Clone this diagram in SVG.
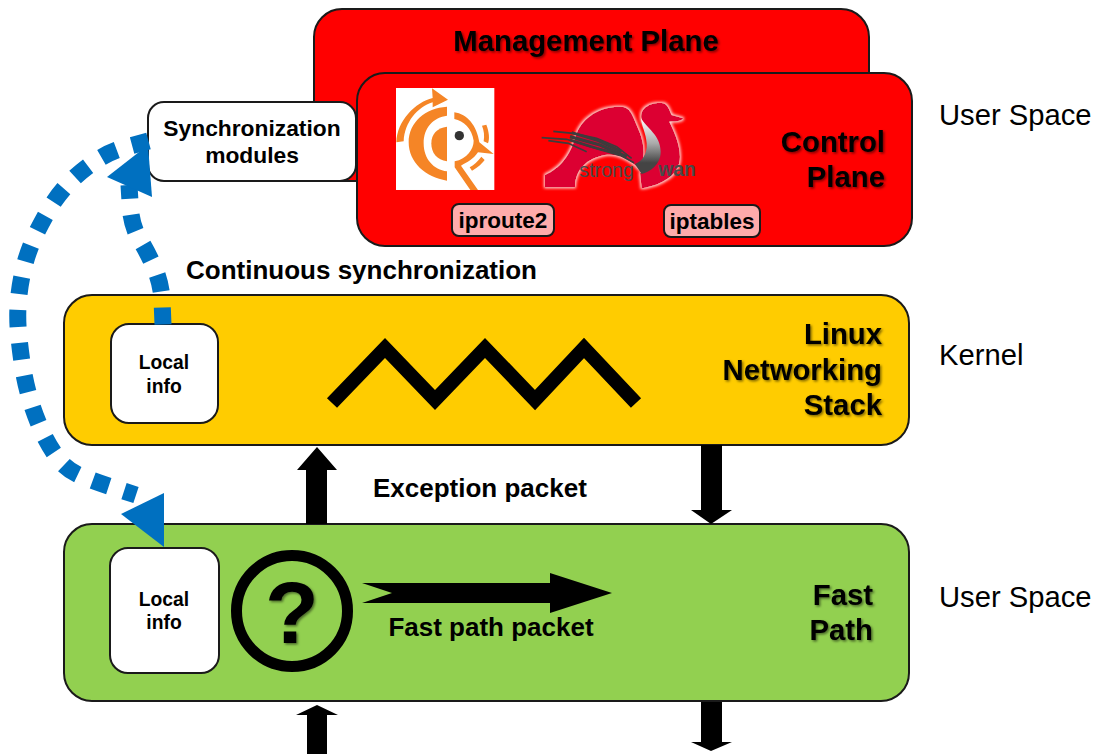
<svg xmlns="http://www.w3.org/2000/svg" width="1095" height="754" viewBox="0 0 1095 754">
<style>
.b{stroke:#1a1a1a;stroke-width:2}
text{font-family:"Liberation Sans",Arial,sans-serif;fill:#000}
.t{font-weight:bold;font-size:29.3px;filter:url(#ts)}
.m{font-weight:bold;text-anchor:middle}
.s{font-size:29.2px}
.tag{fill:#ffabab;stroke:#1a1a1a;stroke-width:2}
.dash{fill:none;stroke:#0070c0;stroke-width:17;stroke-dasharray:17 16}
.blue{fill:#0070c0}
.brush{fill:none;stroke:#3c3c3c;stroke-width:5}
</style>
<defs>
<filter id="ts" x="-10%" y="-20%" width="120%" height="150%"><feDropShadow dx="1.5" dy="1.5" stdDeviation="1" flood-color="#000" flood-opacity=".5"/></filter>
<filter id="glow" x="-10%" y="-10%" width="120%" height="120%"><feMorphology in="SourceAlpha" operator="dilate" radius="4" result="d"/><feGaussianBlur in="d" stdDeviation="4" result="g"/><feFlood flood-color="#ffe0e0"/><feComposite in2="g" operator="in"/><feMerge><feMergeNode/><feMergeNode in="SourceGraphic"/></feMerge></filter>
<linearGradient id="neck" x1="0" y1="0" x2="0" y2="1"><stop offset="0" stop-color="#fff"/><stop offset=".45" stop-color="#aaa"/><stop offset=".8" stop-color="#444"/></linearGradient>
</defs>
<rect width="1095" height="754" fill="#fff"/>

<g id="management-plane"><rect class="b" x="314" y="9" width="555" height="172" rx="28" fill="#f00"/><text class="t" x="586" y="51" text-anchor="middle">Management Plane</text></g>

<g id="control-plane"><rect class="b" x="357" y="73" width="555" height="173" rx="28" fill="#f00"/>
<text class="t" x="885" y="152" text-anchor="end">Control</text><text class="t" x="885" y="187" text-anchor="end">Plane</text>
<g id="logo-bird" transform="translate(392 84) scale(.3333)">
<rect x="12" y="12" width="295" height="306" fill="#fff"/>
<g fill="#f58526">
<path d="M13 175C15 110 70 55 122 42L120 13L168 47L122 70L122 55C75 70 38 115 35 172Z"/>
<path d="M165 68C100 72 50 115 50 175C50 235 100 280 165 290V262C125 258 95 225 95 178C95 130 125 100 165 95Z"/>
<path d="M165 128C135 132 118 150 118 178C118 208 135 228 165 232Z"/>
<path d="M187 85C225 90 255 125 262 175L305 210L258 205C245 225 225 235 207 245L258 318H235L188 250V232C225 225 245 195 245 170C240 135 215 110 187 105Z"/>
<path d="M270 125L283 122C292 145 293 165 288 178L275 172C278 155 276 140 270 125Z"/>
<path d="M268 218L278 228C265 245 250 255 240 260L233 250C245 243 258 232 268 218Z"/>
</g>
<circle cx="202" cy="155" r="14" fill="#333"/>
</g>
<g id="logo-swan" transform="translate(530 90) scale(.3333)">
<g filter="url(#glow)" fill="#dc0032">
<path d="M45 255C90 235 120 200 140 130C160 80 210 50 270 50C300 50 305 70 322 110C340 150 350 190 330 240L315 225C290 205 260 190 225 195C170 205 135 240 135 292H45Z"/>
<path d="M335 90C325 50 370 35 400 40C415 45 420 65 425 75L460 85C455 95 430 95 418 95C430 120 450 160 450 200C450 255 395 285 335 295L330 250C375 225 395 180 370 140C358 120 345 110 335 90Z"/>
</g>
<path fill="url(#neck)" d="M333 85C350 115 392 135 392 185C392 225 360 245 335 252L315 222C335 215 352 195 350 160C348 130 335 110 333 85Z"/>
<g class="brush">
<path d="M70 124L130 130L200 145L260 170L305 205"/>
<path d="M35 143L110 148L180 170L260 190L312 218"/>
<path d="M55 152L115 160L170 185"/>
<path d="M125 128L205 152L275 185" stroke-width="9"/>
<path d="M120 140L210 165L290 200" stroke-width="10"/>
<path d="M120 150L200 175L270 195" stroke-width="8"/>
</g>
<text x="148" y="262" style="font-size:59px"><tspan fill="#4a4a4a">strong</tspan></text>
<text x="385" y="258" style="font-size:58px;font-weight:bold"><tspan fill="#4a4a4a">wan</tspan></text>
</g>
</g>

<g id="iproute2"><rect class="tag" x="452" y="204" width="102" height="32" rx="7"/><text class="m" x="503" y="228" font-size="22.5">iproute2</text></g>
<g id="iptables"><rect class="tag" x="664" y="205" width="96" height="32" rx="7"/><text class="m" x="712" y="229" font-size="22.5">iptables</text></g>

<g id="linux-stack"><rect class="b" x="64" y="295" width="845" height="150" rx="28" fill="#fc0"/>
<text class="t" x="882" y="344" text-anchor="end">Linux</text><text class="t" x="882" y="380" text-anchor="end">Networking</text><text class="t" x="882" y="415" text-anchor="end">Stack</text>
<polyline points="332,403 385,348 435,400 485,348 535,400 584,348 636,403" fill="none" stroke="#000" stroke-width="14"/></g>

<g id="fast-path"><rect class="b" x="64" y="524" width="845" height="177" rx="28" fill="#92d050"/>
<text class="t" x="873" y="605" text-anchor="end">Fast</text><text class="t" x="873" y="640" text-anchor="end">Path</text>
<circle cx="292" cy="611" r="55.5" fill="none" stroke="#000" stroke-width="11"/>
<text x="292" y="643" text-anchor="middle" style="font-weight:bold;font-size:88px;filter:url(#ts)">?</text>
<polygon points="362,583 550,583 550,573 612,593 550,613 550,603 362,603 392,593" fill="#000"/>
<text class="m" x="491" y="636" font-size="26">Fast path packet</text></g>

<g id="sync-modules"><rect class="b" x="148" y="102" width="208" height="79" rx="16" fill="#fff"/><text class="m" x="252" y="136" font-size="22.8">Synchronization</text><text class="m" x="252" y="163" font-size="22.8">modules</text></g>
<g id="local-info-kernel"><rect class="b" x="111" y="324" width="107" height="99" rx="18" fill="#fff"/><text class="m" x="164" y="369" font-size="19.3">Local</text><text class="m" x="164" y="393" font-size="19.3">info</text></g>
<g id="local-info-fast"><rect class="b" x="110" y="548" width="109" height="125" rx="18" fill="#fff"/><text class="m" x="164" y="606" font-size="19.3">Local</text><text class="m" x="164" y="629" font-size="19.3">info</text></g>

<g id="connectors">
<path class="dash" d="M148.500 141L124.500 147.500Q109 152 95.500 161Q82 170 70.500 181.500Q59 193 50.500 207Q42 221 35 236Q28 251 24 267Q20 283 18.500 299.500Q17 316 18.500 332.500Q20 349 22.500 365.500Q25 382 29.500 397.500Q34 413 40.500 428Q47 443 56.500 456.500Q66 470 81 476Q96 482 111.500 487L136 495"/>
<polygon class="blue" points="121,514 164,493 164,547"/>
<path class="dash" d="M163 324.500L162 299.500Q161 283 154.500 268Q148 253 140 240Q132 227 130.500 210L129 185"/>
<polygon class="blue" points="107,177 148,145 152,197"/>
<polygon points="317,447 337,470 327,470 327,524 306,524 306,470 297,470" fill="#000"/>
<polygon points="701,445 722,445 722,510 732,510 711,524 691,510 701,510" fill="#000"/>
<polygon points="317,705 338,715 327,715 327,754 307,754 307,715 296,715" fill="#000"/>
<polygon points="701,702 722,702 722,742 732,742 711,751 691,742 701,742" fill="#000"/>
</g>

<g id="labels">
<text class="s" x="939" y="125">User Space</text>
<text class="s" x="939" y="365">Kernel</text>
<text class="s" x="939" y="607">User Space</text>
<text x="186" y="279" style="font-weight:bold;font-size:26px">Continuous synchronization</text>
<text x="373" y="497" style="font-weight:bold;font-size:26px">Exception packet</text>
</g>
</svg>
